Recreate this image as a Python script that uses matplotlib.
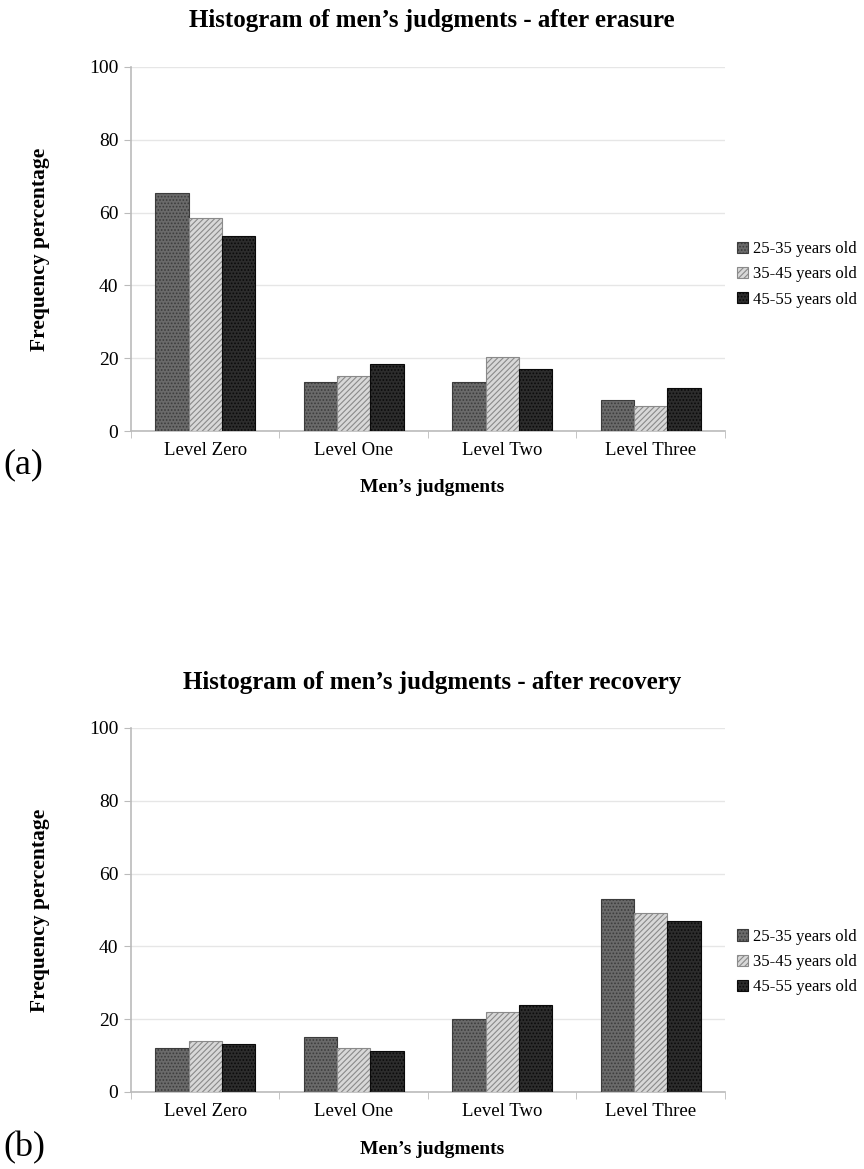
import matplotlib
matplotlib.use("Agg")
import matplotlib.pyplot as plt
import numpy as np

categories = ["Level Zero", "Level One", "Level Two", "Level Three"]
series_names = ["25-35 years old", "35-45 years old", "45-55 years old"]
erasure_2535 = [65.3, 13.5, 13.5, 8.4]
erasure_3545 = [58.4, 15.2, 20.2, 7.0]
erasure_4555 = [53.5, 18.5, 17.0, 11.9]
recovery_2535 = [12.2, 15.1, 20.0, 53.0]
recovery_3545 = [14.0, 12.1, 22.1, 49.1]
recovery_4555 = [13.1, 11.2, 23.9, 47.1]
yticks = [0, 20, 40, 60, 80, 100]

plt.rcParams['font.family'] = ['Liberation Serif', 'DejaVu Serif']
plt.rcParams['hatch.linewidth'] = 0.8

styles = [
    dict(facecolor='#6a6a6a', edgecolor='#3c3c3c', hatch='.....'),
    dict(facecolor='#d8d8d8', edgecolor='#8a8a8a', hatch='//////'),
    dict(facecolor='#2c2c2c', edgecolor='#0a0a0a', hatch='.....'),
]

fig = plt.figure(figsize=(8.64, 11.69), dpi=100)

def draw(ax, data, title, title_y, xlabel_y, letter, letter_y, legend_y):
    x = np.arange(len(categories))
    w = 0.225
    for i, vals in enumerate(data):
        ax.bar(x + (i - 1) * w, vals, width=w, linewidth=0.8,
               label=series_names[i], zorder=3, **styles[i])
    ax.set_xlim(-0.5, len(categories) - 0.5)
    ax.set_ylim(0, 100)
    ax.set_yticks(yticks)
    ax.set_yticklabels([str(t) for t in yticks], fontsize=14)
    ax.set_xticks(x)
    ax.set_xticklabels(categories, fontsize=13.5)
    ax.tick_params(axis='x', length=0, pad=8)
    ax.set_xticks(np.arange(len(categories) + 1) - 0.5, minor=True)
    ax.tick_params(axis='x', which='minor', length=5, color='#bbbbbb')
    ax.tick_params(axis='y', length=5, color='#bbbbbb', pad=4)
    ax.yaxis.grid(True, color='#e6e6e6', linewidth=1, zorder=0)
    ax.set_axisbelow(True)
    for s in ['top', 'right']:
        ax.spines[s].set_visible(False)
    for s in ['left', 'bottom']:
        ax.spines[s].set_color('#bbbbbb')
        ax.spines[s].set_linewidth(1.2)
    pos = ax.get_position()
    fig.text(40 / 864, pos.y0 + pos.height / 2, "Frequency percentage", rotation=90,
             ha='center', va='center', fontsize=15.5, fontweight='bold')
    fig.text(0.5, title_y, title, ha='center', va='center', fontsize=18, fontweight='bold')
    fig.text(0.5, xlabel_y, "Men’s judgments", ha='center', va='center', fontsize=14, fontweight='bold')
    fig.text(0.004, letter_y, letter, ha='left', va='center', fontsize=26)
    ax.legend(loc='center left', bbox_to_anchor=(1.02, legend_y),
              frameon=False, fontsize=12, handlelength=0.65, handleheight=0.65,
              handletextpad=0.3, labelspacing=0.55, borderaxespad=0, borderpad=0)

ax1 = fig.add_axes([0.1516, 0.6313, 0.6875, 0.3114])
draw(ax1, [erasure_2535, erasure_3545, erasure_4555],
     "Histogram of men’s judgments - after erasure", 1 - 21 / 1169, 1 - 488 / 1169,
     "(a)", 1 - 465 / 1169, 0.43)

ax2 = fig.add_axes([0.1516, 0.0659, 0.6875, 0.3114])
draw(ax2, [recovery_2535, recovery_3545, recovery_4555],
     "Histogram of men’s judgments - after recovery", 1 - 683 / 1169, 1 - 1150 / 1169,
     "(b)", 1 - 1148 / 1169, 0.357)

fig.savefig("out.png", dpi=100)
